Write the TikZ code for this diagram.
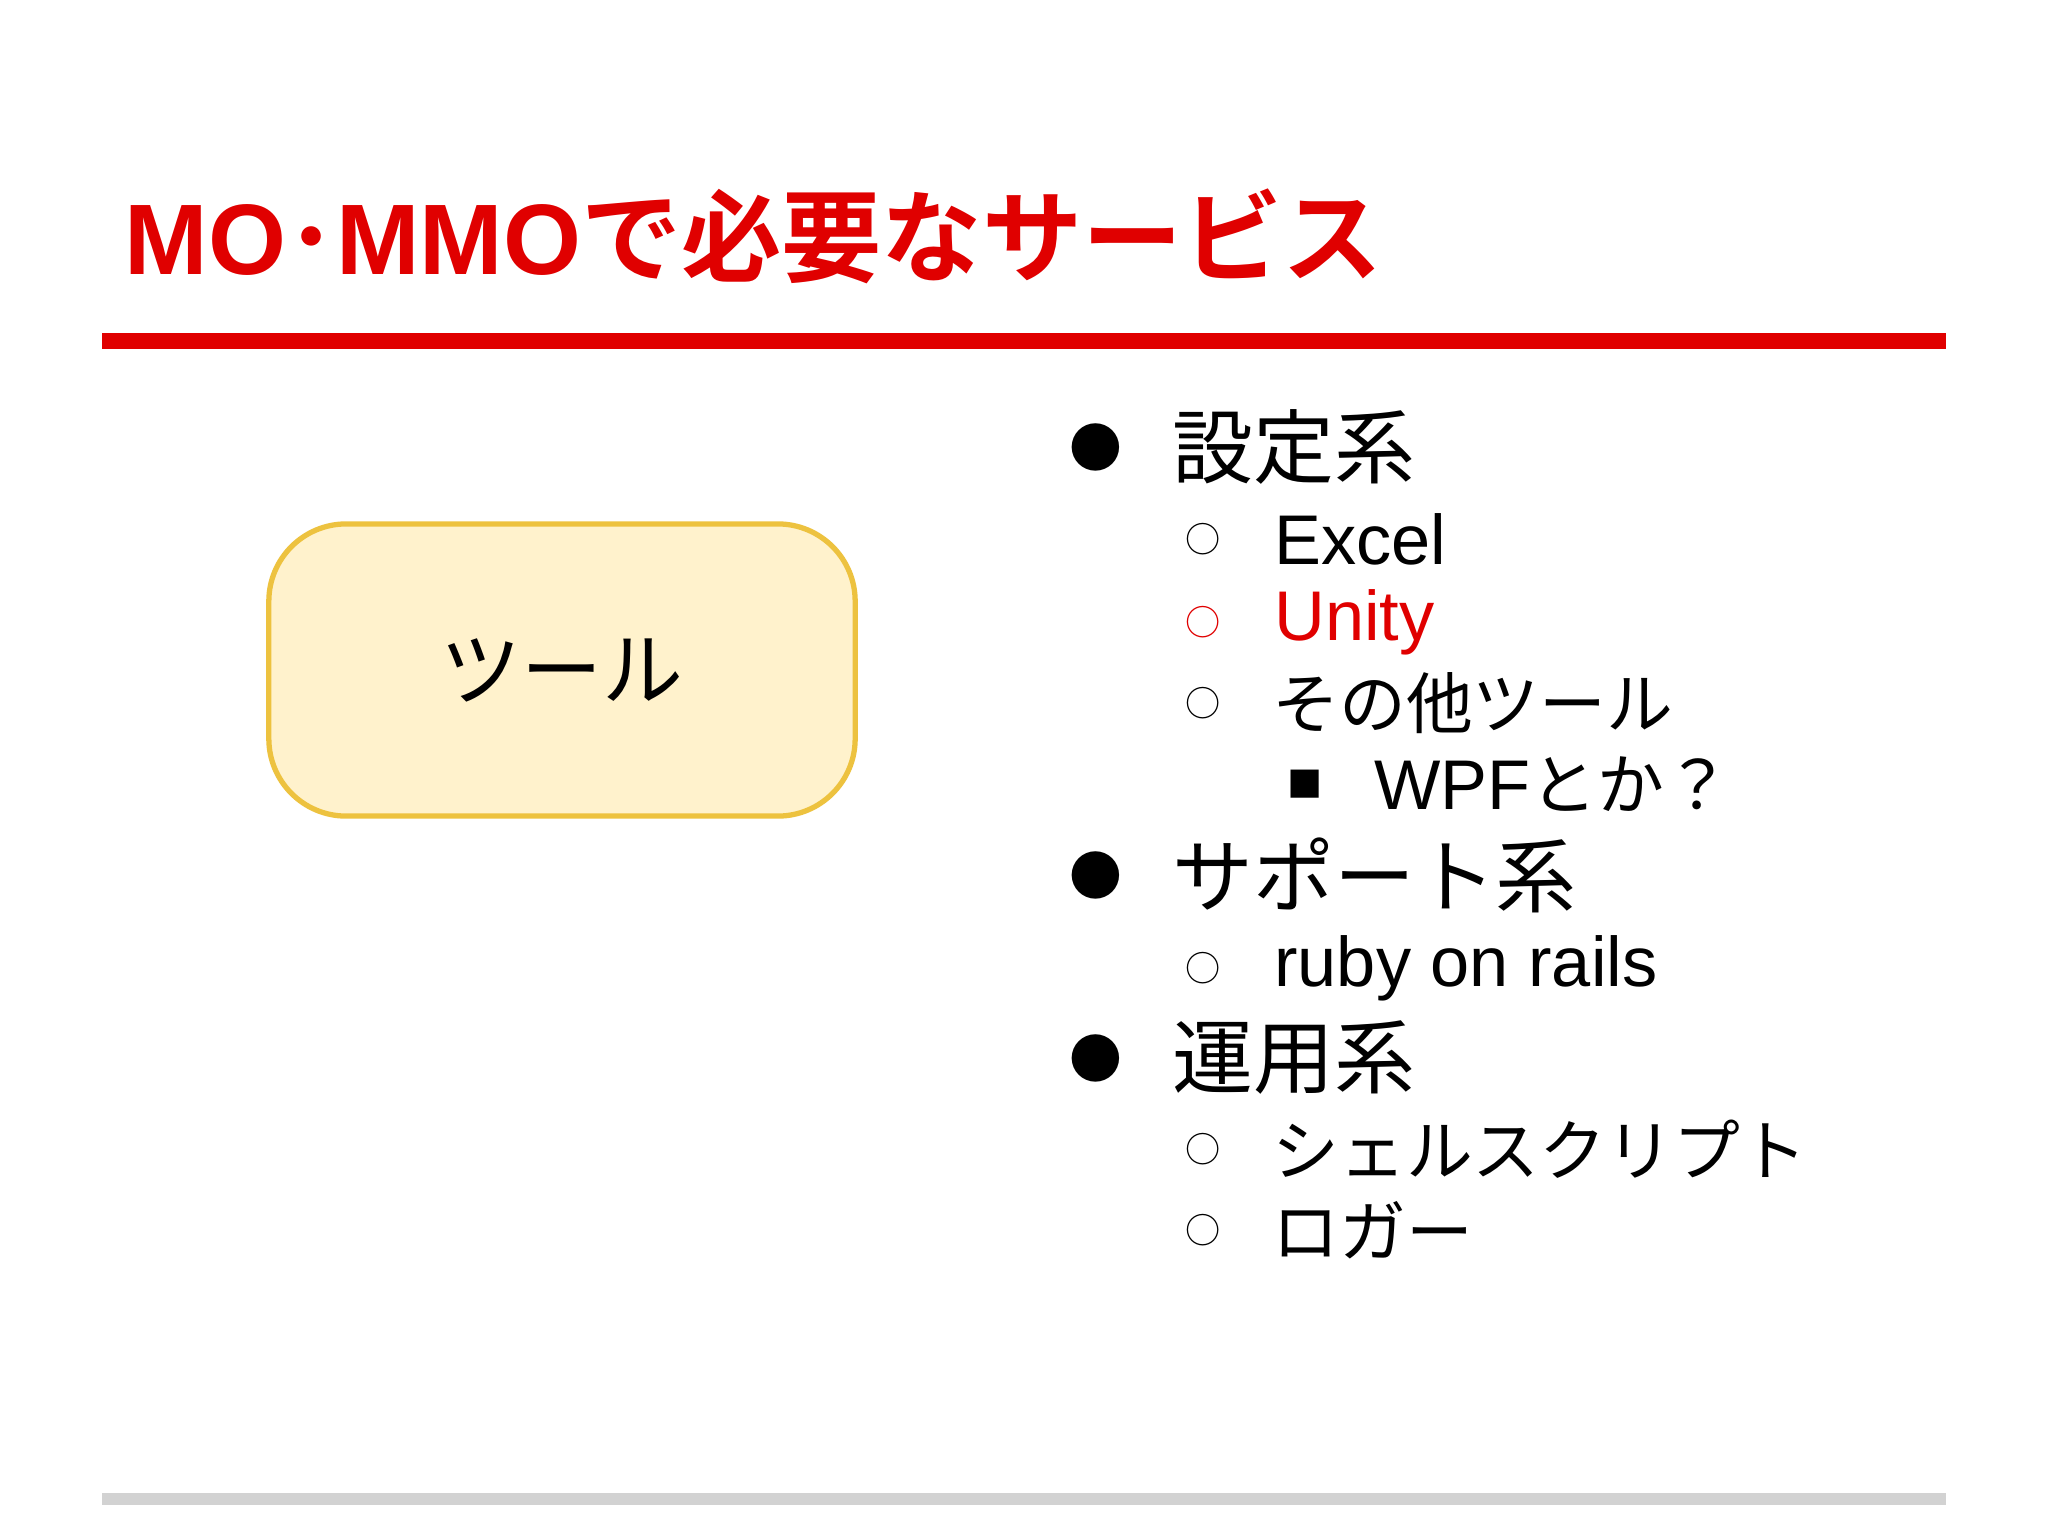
\documentclass[tikz,border=0pt]{standalone}
\usepackage{fontspec}
\setmainfont{Liberation Sans}
\newfontfamily\jp{Noto Sans CJK JP}
\newfontfamily\jpb{Noto Sans CJK JP Bold}
\newfontfamily\lat{Liberation Sans}
\newfontfamily\latb{Liberation Sans Bold}
\definecolor{tred}{HTML}{E00000}
\definecolor{boxfill}{HTML}{FFF2CC}
\definecolor{boxline}{HTML}{EDC23F}
\begin{document}
\begin{tikzpicture}[x=0.01cm,y=-0.01cm,
  lone/.style={anchor=west,font=\jp\fontsize{23}{26}\selectfont},
  ltwo/.style={anchor=west,font=\jp\fontsize{19}{22}\selectfont},
  bul/.style={anchor=center}]
\useasboundingbox (0,0) rectangle (2048,1536);
\fill[white] (0,0) rectangle (2048,1536);
\node[anchor=west,text=tred,font=\jpb\fontsize{28.5}{31}\selectfont,inner sep=0pt] (title) at (124,236) {{\latb MO}･{\latb MMO}で必要なサービス};
\coordinate (r1) at (102,341); \coordinate (r2) at (1946,341);
\draw[tred,line width=4.5pt] (r1) -- (r2);
\coordinate (g1) at (102,1499); \coordinate (g2) at (1946,1499);
\draw[gray!35,line width=3.5pt] (g1) -- (g2);
\node[draw=boxline,fill=boxfill,line width=1.5pt,rounded corners=22pt,minimum width=5.86cm,minimum height=2.92cm,font=\jp\fontsize{23}{26}\selectfont] (tool) at (562,670) {ツール};
% level 1
\foreach \y/\t/\n in {447/設定系/a,875/サポート系/b,1058/運用系/c}{
  \node[bul,font=\jp\fontsize{15}{18}\selectfont] (d\n) at (1096,\y) {●};
  \node[lone] (t\n) at (1160,\y) {\t};}
% level 2
\foreach \y/\t/\n in {703/その他ツール/c,1149/シェルスクリプト/e,1230/ロガー/f}{
  \node[bul,font=\jp\fontsize{10}{12}\selectfont] (o\n) at (1203,\y) {○};
  \node[ltwo] (s\n) at (1260,\y) {\t};}
\foreach \y/\t/\n in {539/Excel/a,968/ruby on rails/d}{
  \node[bul,font=\jp\fontsize{10}{12}\selectfont] (o\n) at (1203,\y) {○};
  \node[ltwo,font=\lat\fontsize{20}{22}\selectfont] (s\n) at (1262,\y) {\t};}
\node[bul,text=tred,font=\jp\fontsize{10}{12}\selectfont] (ob) at (1203,622) {○};
\node[ltwo,text=tred,font=\lat\fontsize{20}{22}\selectfont] (sb) at (1262,622) {Unity};
\node[bul,font=\jp\fontsize{10}{12}\selectfont] (sq) at (1305,784) {■};
\node[ltwo] (sw) at (1362,784) {{\lat\fontsize{20}{22}\selectfont WPF}とか？};
\end{tikzpicture}
\end{document}
